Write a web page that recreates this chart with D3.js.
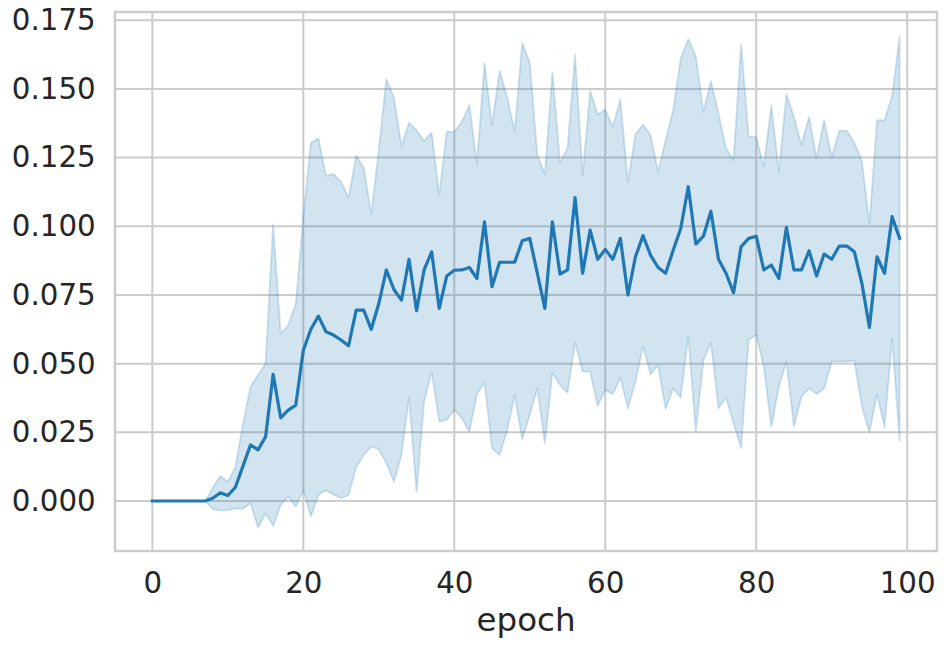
<!DOCTYPE html>
<html>
<head>
<meta charset="utf-8">
<script src="https://cdn.jsdelivr.net/npm/d3@7"></script>
<style>
  html, body { margin: 0; padding: 0; background: #fff; }
  svg { display: block; font-family: "DejaVu Sans", sans-serif; }
</style>
</head>
<body>
<svg id="chart" width="946" height="647"></svg>
<script>
// ---- data ----
const epochs = d3.range(0, 100);
const meanValues = [
  0, 0, 0, 0, 0, 0, 0, 0, 0.001, 0.003,
  0.002, 0.005, 0.0127, 0.0204, 0.0186, 0.0234, 0.0461, 0.0303, 0.0331, 0.0349,
  0.0549, 0.0625, 0.0673, 0.0616, 0.0604, 0.0586, 0.0565, 0.0695, 0.0695, 0.0625,
  0.0719, 0.0841, 0.077, 0.0731, 0.088, 0.0693, 0.0841, 0.0907, 0.0701, 0.0819,
  0.0840, 0.0841, 0.085, 0.081, 0.1016, 0.078, 0.0869, 0.0869, 0.0869, 0.0947,
  0.0956, 0.0829, 0.0701, 0.1016, 0.0826, 0.0841, 0.1104, 0.0829, 0.0986, 0.088,
  0.0916, 0.088, 0.0956, 0.075, 0.0889, 0.0966, 0.0895, 0.085, 0.0829, 0.0913,
  0.0992, 0.1144, 0.0935, 0.0964, 0.1055, 0.088, 0.0829, 0.0758, 0.0926, 0.0956,
  0.0964, 0.0841, 0.0859, 0.081, 0.0996, 0.0841, 0.0841, 0.0911, 0.0819, 0.0899,
  0.088, 0.0928, 0.0928, 0.0907, 0.0792, 0.0632, 0.0889, 0.0829, 0.1035, 0.0956
];
const upperValues = [
  0, 0, 0, 0, 0, 0, 0, 0, 0.0047, 0.0091,
  0.007, 0.0123, 0.028, 0.0416, 0.0459, 0.0501, 0.1007, 0.0608, 0.064, 0.0719,
  0.1035, 0.1304, 0.132, 0.1184, 0.119, 0.1162, 0.1105, 0.1257, 0.1214, 0.1044,
  0.128, 0.1536, 0.1469, 0.1292, 0.1377, 0.135, 0.131, 0.1341, 0.1114, 0.1344,
  0.1344, 0.138, 0.1441, 0.1226, 0.1595, 0.1368, 0.1566, 0.1471, 0.1346, 0.1668,
  0.1595, 0.1259, 0.119, 0.156, 0.1232, 0.1283, 0.1625, 0.1186, 0.1493, 0.1407,
  0.1425, 0.1362, 0.1462, 0.116, 0.1336, 0.137, 0.1332, 0.1198, 0.1314, 0.1423,
  0.1611, 0.1681, 0.1619, 0.1417, 0.1528, 0.1411, 0.1283, 0.1241, 0.1663, 0.1326,
  0.1326, 0.1217, 0.1441, 0.1198, 0.1481, 0.1399, 0.1296, 0.1399, 0.1247, 0.1386,
  0.1251, 0.1348, 0.1348, 0.1304, 0.1238, 0.101, 0.1386, 0.1386, 0.1474, 0.1692
];
const lowerValues = [
  0, 0, 0, 0, 0, 0, 0, 0, -0.003, -0.0035,
  -0.0033, -0.0028, -0.0028, -0.0008, -0.0097, -0.0045, -0.0091, -0.0015, 0.0016, -0.0021,
  0.0039, -0.0057, 0.0022, 0.004, 0.0023, 0.001, 0.0022, 0.0123, 0.0167, 0.0198,
  0.0188, 0.0137, 0.007, 0.0167, 0.0377, 0.0032, 0.0361, 0.0471, 0.0289, 0.0295,
  0.0332, 0.0301, 0.0252, 0.0389, 0.0432, 0.0192, 0.0167, 0.0256, 0.0386, 0.0224,
  0.0313, 0.041, 0.021, 0.0467, 0.0422, 0.0394, 0.0576, 0.0471, 0.0471, 0.0346,
  0.0405, 0.0389, 0.0449, 0.0337, 0.0434, 0.0562, 0.0461, 0.0495, 0.0334, 0.041,
  0.0376, 0.0598, 0.0252, 0.0511, 0.0576, 0.0337, 0.0376, 0.0283, 0.0192, 0.0586,
  0.0604, 0.0489, 0.027, 0.0416, 0.0507, 0.027, 0.038, 0.041, 0.0389, 0.041,
  0.0507, 0.0507, 0.0507, 0.0511, 0.0343, 0.0249, 0.0388, 0.0268, 0.0592, 0.0219
];
const xTicks = [0, 20, 40, 60, 80, 100];
const yTicks = [0, 0.025, 0.05, 0.075, 0.1, 0.125, 0.15, 0.175];
const xLabel = "epoch";

// ---- layout ----
const W = 946, H = 647;
const margin = { left: 115, top: 12, right: 9, bottom: 96 };
const iw = W - margin.left - margin.right;
const ih = H - margin.top - margin.bottom;
const color = "#1f77b4";
const gridColor = "#cccccc";
const textColor = "#262626";
const tickFont = "29.3px";

const svg = d3.select("#chart");
const g = svg.append("g").attr("transform", `translate(${margin.left},${margin.top})`);

const x = d3.scaleLinear().domain([-4.95, 103.95]).range([0, iw]);
const y = d3.scaleLinear().domain([-0.0182, 0.178]).range([ih, 0]);

// grid
g.append("g").selectAll("line").data(xTicks).join("line")
  .attr("x1", d => x(d)).attr("x2", d => x(d))
  .attr("y1", 0).attr("y2", ih)
  .attr("stroke", gridColor).attr("stroke-width", 2);
g.append("g").selectAll("line").data(yTicks).join("line")
  .attr("x1", 0).attr("x2", iw)
  .attr("y1", d => y(d)).attr("y2", d => y(d))
  .attr("stroke", gridColor).attr("stroke-width", 2);

const rows = epochs.map((e, i) => ({ e, m: meanValues[i], lo: lowerValues[i], hi: upperValues[i] }));

// band
const area = d3.area().x(d => x(d.e)).y0(d => y(d.lo)).y1(d => y(d.hi));
g.append("path").datum(rows)
  .attr("d", area)
  .attr("fill", color).attr("fill-opacity", 0.2)
  .attr("stroke", color).attr("stroke-opacity", 0.2).attr("stroke-width", 1.8)
  .attr("stroke-linejoin", "round");

// mean line
const line = d3.line().x(d => x(d.e)).y(d => y(d.m));
g.append("path").datum(rows)
  .attr("d", line)
  .attr("fill", "none")
  .attr("stroke", color).attr("stroke-width", 3.2)
  .attr("stroke-linejoin", "round").attr("stroke-linecap", "square");

// spines
g.append("rect").attr("x", 0).attr("y", 0).attr("width", iw).attr("height", ih)
  .attr("fill", "none").attr("stroke", gridColor).attr("stroke-width", 2.5);

// axes
const xAxis = d3.axisBottom(x).tickValues(xTicks).tickSize(0).tickPadding(21).tickFormat(d3.format("d"));
const gx = g.append("g").attr("transform", `translate(0,${ih})`).call(xAxis);
gx.select(".domain").remove();
gx.selectAll("text").attr("fill", textColor).style("font-size", tickFont).style("font-family", "DejaVu Sans");

const yAxis = d3.axisLeft(y).tickValues(yTicks).tickSize(0).tickPadding(19.3).tickFormat(d3.format(".3f"));
const gy = g.append("g").call(yAxis);
gy.select(".domain").remove();
gy.selectAll("text").attr("fill", textColor).style("font-size", tickFont).style("font-family", "DejaVu Sans");

// x label
svg.append("text")
  .attr("x", margin.left + iw / 2).attr("y", 631)
  .attr("text-anchor", "middle")
  .attr("fill", textColor)
  .style("font-size", "32.5px").style("font-family", "DejaVu Sans")
  .text(xLabel);
</script>
</body>
</html>
